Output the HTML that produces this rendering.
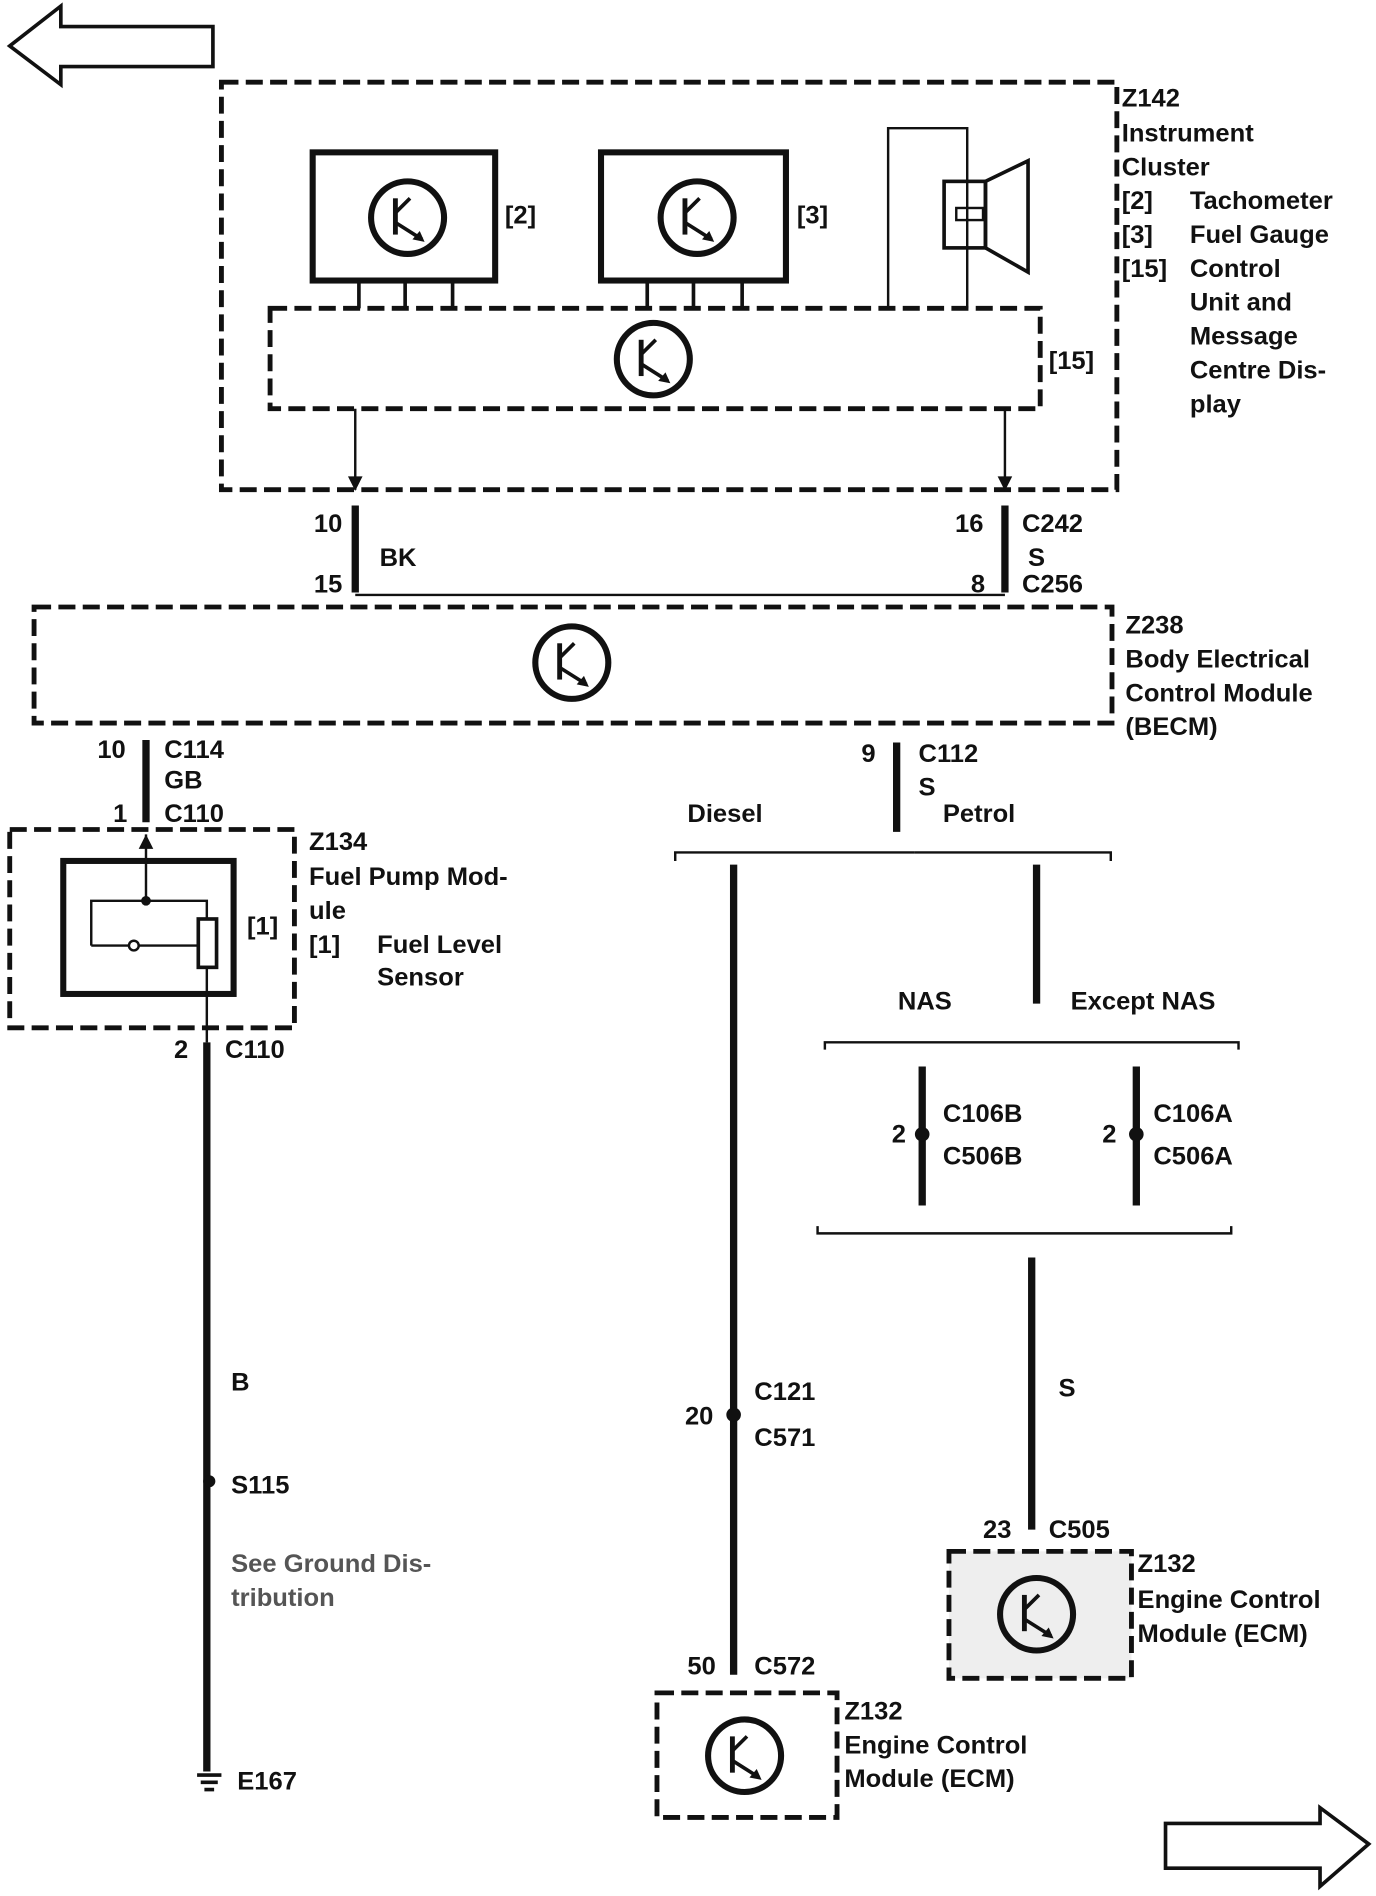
<!DOCTYPE html>
<html><head><meta charset="utf-8"><style>
html,body{margin:0;padding:0;background:#fff;}
svg{display:block;}
text{font-family:"Liberation Sans",Arial,sans-serif;font-weight:bold;font-size:21px;fill:#111;}
</style></head><body>
<svg width="1376" height="1896" viewBox="0 0 1131 1568" preserveAspectRatio="none" xmlns="http://www.w3.org/2000/svg">
<defs>
<g id="tr">
<circle cx="0" cy="0" r="30" fill="none" stroke="#111" stroke-width="5"/>
<line x1="-10" y1="-16" x2="-10" y2="14" stroke="#111" stroke-width="4"/>
<line x1="-10" y1="-4" x2="2" y2="-16" stroke="#111" stroke-width="3"/>
<line x1="-10" y1="4" x2="12" y2="18" stroke="#111" stroke-width="3"/>
<polygon points="14,20 4,18 10,11" fill="#111"/>
</g>
</defs>
<rect width="1131" height="1568" fill="#fff"/>
<!-- arrows -->
<polygon points="8,38 50,5 50,22 175,22 175,55 50,55 50,70" fill="none" stroke="#111" stroke-width="3"/>
<polygon points="1125,1525 1085,1495 1085,1508 958,1508 958,1545 1085,1545 1085,1560" fill="none" stroke="#111" stroke-width="3"/>

<g fill="none" stroke="#111" stroke-width="4" stroke-dasharray="14,6">
<rect x="182" y="68" width="736" height="337"/>
<rect x="222" y="255" width="633" height="83"/>
<rect x="28" y="502" width="886" height="96"/>
<rect x="8" y="686" width="234" height="164"/>
<rect x="540" y="1400" width="148" height="103"/>
<rect x="780" y="1283" width="150" height="105" fill="#eee"/>
</g>
<!-- Z142 content -->
<rect x="257" y="126" width="150" height="106" fill="none" stroke="#111" stroke-width="5"/>
<rect x="494" y="126" width="152" height="106" fill="none" stroke="#111" stroke-width="5"/>
<use href="#tr" x="335" y="180"/>
<use href="#tr" x="573" y="180"/>
<use href="#tr" x="537" y="297"/>
<g stroke="#111" stroke-width="3">
<line x1="295" y1="232" x2="295" y2="255"/><line x1="333" y1="232" x2="333" y2="255"/><line x1="372" y1="232" x2="372" y2="255"/>
<line x1="532" y1="232" x2="532" y2="255"/><line x1="570" y1="232" x2="570" y2="255"/><line x1="610" y1="232" x2="610" y2="255"/>
</g>
<g fill="none" stroke="#111" stroke-width="2">
<polyline points="730,255 730,106 795,106 795,255"/>
<rect x="776" y="150" width="34" height="55" stroke-width="3"/>
<rect x="786" y="172" width="22" height="10"/>
<polygon points="810,150 845,133 845,225 810,205" stroke-width="3"/>
<line x1="292" y1="338" x2="292" y2="405"/>
<line x1="826" y1="338" x2="826" y2="405"/>
<line x1="292" y1="492" x2="826" y2="492"/>
<polyline points="752,705 555,705 555,712"/><polyline points="752,705 913,705 913,712"/>
<polyline points="678,868 678,862 1018,862 1018,868"/>
<polyline points="672,1014 672,1020 1012,1020 1012,1014"/>
</g>
<polygon points="286,394 298,394 292,406" fill="#111"/>
<polygon points="820,394 832,394 826,406" fill="#111"/>
<g stroke="#111" stroke-width="6">
<line x1="292" y1="418" x2="292" y2="490"/>
<line x1="826" y1="418" x2="826" y2="490"/>
<line x1="120" y1="612" x2="120" y2="680"/>
<line x1="737" y1="614" x2="737" y2="688"/>
<line x1="170" y1="862" x2="170" y2="1465"/>
<line x1="603" y1="715" x2="603" y2="1385"/>
<line x1="852" y1="715" x2="852" y2="830"/>
<line x1="758" y1="882" x2="758" y2="997"/>
<line x1="934" y1="882" x2="934" y2="997"/>
<line x1="848" y1="1040" x2="848" y2="1265"/>
</g>
<!-- Z238 -->
<use href="#tr" x="470" y="548"/>
<!-- fuel pump -->
<rect x="52" y="712" width="140" height="110" fill="none" stroke="#111" stroke-width="5"/>
<g fill="none" stroke="#111" stroke-width="2">
<line x1="120" y1="690" x2="120" y2="745"/>
<polyline points="75,782 75,745 170,745 170,760"/>
<line x1="75" y1="782" x2="163" y2="782"/>
<rect x="163" y="760" width="15" height="40" stroke-width="3"/>
<line x1="170" y1="800" x2="170" y2="862"/>
</g>
<polygon points="114,702 126,702 120,690" fill="#111"/>
<circle cx="120" cy="745" r="4" fill="#111"/>
<circle cx="110" cy="782" r="4" fill="#fff" stroke="#111" stroke-width="2"/>
<circle cx="172" cy="1225" r="5" fill="#111"/>
<path d="M162,1468 h20 M165,1474 h14 M168,1480 h8" stroke="#111" stroke-width="3"/>
<!-- connector dots -->
<circle cx="603" cy="1170" r="6" fill="#111"/>
<circle cx="758" cy="938" r="6" fill="#111"/>
<circle cx="934" cy="938" r="6" fill="#111"/>
<use href="#tr" x="612" y="1452"/>
<use href="#tr" x="852" y="1335"/>

<g>
<text x="258" y="440">10</text><text x="312" y="468">BK</text><text x="258" y="490">15</text>
<text x="785" y="440">16</text><text x="840" y="440">C242</text><text x="845" y="468">S</text><text x="798" y="490">8</text><text x="840" y="490">C256</text>
<text x="415" y="185">[2]</text><text x="655" y="185">[3]</text><text x="862" y="305">[15]</text>
<text x="922" y="88">Z142</text><text x="922" y="117">Instrument</text><text x="922" y="145">Cluster</text>
<text x="922" y="173">[2]</text><text x="978" y="173">Tachometer</text>
<text x="922" y="201">[3]</text><text x="978" y="201">Fuel Gauge</text>
<text x="922" y="229">[15]</text><text x="978" y="229">Control</text>
<text x="978" y="257">Unit and</text><text x="978" y="285">Message</text><text x="978" y="313">Centre Dis-</text><text x="978" y="341">play</text>
<text x="925" y="524">Z238</text><text x="925" y="552">Body Electrical</text><text x="925" y="580">Control Module</text><text x="925" y="608">(BECM)</text>
<text x="80" y="627">10</text><text x="135" y="627">C114</text><text x="135" y="652">GB</text><text x="93" y="680">1</text><text x="135" y="680">C110</text>
<text x="203" y="773">[1]</text>
<text x="254" y="703">Z134</text><text x="254" y="732">Fuel Pump Mod-</text><text x="254" y="760">ule</text>
<text x="254" y="788">[1]</text><text x="310" y="788">Fuel Level</text><text x="310" y="815">Sensor</text>
<text x="143" y="875">2</text><text x="185" y="875">C110</text>
<text x="190" y="1150">B</text><text x="190" y="1235">S115</text>
<text x="190" y="1300" style="fill:#555">See Ground Dis-</text><text x="190" y="1328" style="fill:#555">tribution</text>
<text x="195" y="1480">E167</text>
<text x="708" y="630">9</text><text x="755" y="630">C112</text><text x="755" y="658">S</text>
<text x="565" y="680">Diesel</text><text x="775" y="680">Petrol</text>
<text x="563" y="1178">20</text><text x="620" y="1158">C121</text><text x="620" y="1196">C571</text>
<text x="565" y="1385">50</text><text x="620" y="1385">C572</text>
<text x="694" y="1422">Z132</text><text x="694" y="1450">Engine Control</text><text x="694" y="1478">Module (ECM)</text>
<text x="738" y="835">NAS</text><text x="880" y="835">Except NAS</text>
<text x="733" y="945">2</text><text x="775" y="928">C106B</text><text x="775" y="963">C506B</text>
<text x="906" y="945">2</text><text x="948" y="928">C106A</text><text x="948" y="963">C506A</text>
<text x="870" y="1155">S</text>
<text x="808" y="1272">23</text><text x="862" y="1272">C505</text>
<text x="935" y="1300">Z132</text><text x="935" y="1330">Engine Control</text><text x="935" y="1358">Module (ECM)</text>
</g>
</svg>
</body></html>
